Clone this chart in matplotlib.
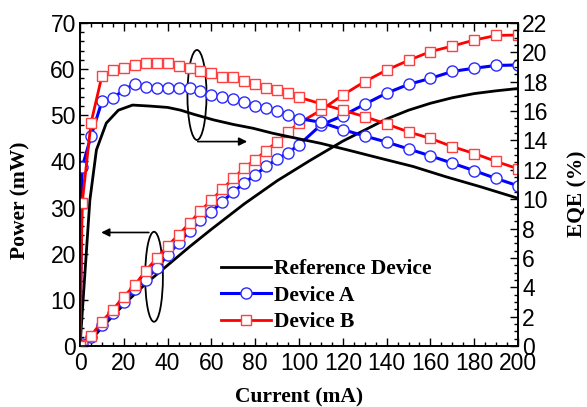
import numpy as np
import matplotlib
matplotlib.use("Agg")
import matplotlib.pyplot as plt
from matplotlib.patches import Ellipse
from matplotlib.ticker import MultipleLocator

# current (mA) for the marker series
cur = [0, 1, 5, 10, 15, 20, 25, 30, 35, 40, 45, 50, 55, 60, 65, 70, 75, 80, 85, 90, 95, 100,
       110, 120, 130, 140, 150, 160, 170, 180, 190, 200]

# output power (mW)
pow_b = [0, 0.3, 2.2, 5.3, 7.9, 10.7, 13.2, 16.3, 19.0, 21.7, 24.1, 26.6, 29.3, 31.6, 34.0, 36.3,
         38.6, 40.4, 42.3, 44.3, 46.4, 48.3, 51.1, 54.4, 57.3, 59.8, 61.9, 63.8, 65.0, 66.3, 67.3, 67.4]
pow_a = [0, 0.5, 2.0, 4.5, 7.1, 9.6, 12.3, 14.4, 16.8, 19.7, 22.3, 24.9, 27.2, 29.1, 31.3, 33.4,
         35.3, 37.1, 38.9, 40.5, 41.9, 43.6, 47.9, 49.9, 52.4, 54.8, 56.7, 58.0, 59.5, 60.2, 60.8, 60.9]

# EQE (%)
eqe_b = [0, 9.74, 15.18, 18.39, 18.79, 18.92, 19.11, 19.30, 19.27, 19.30, 19.08, 18.92, 18.76,
         18.61, 18.35, 18.29, 18.07, 17.82, 17.60, 17.44, 17.22, 16.94, 16.50, 16.06, 15.62,
         15.12, 14.58, 14.14, 13.58, 13.11, 12.57, 12.07]
eqe_a = [0, 12.19, 14.27, 16.66, 16.88, 17.44, 17.85, 17.63, 17.57, 17.60, 17.57, 17.57, 17.35,
         17.10, 16.94, 16.81, 16.63, 16.34, 16.19, 16.00, 15.75, 15.49, 15.24, 14.74, 14.30,
         13.89, 13.42, 12.95, 12.45, 11.94, 11.41, 10.91]

# reference device (plain lines)
ref_pow_x = [0, 5, 10, 20, 30, 40, 50, 60, 75, 90, 105, 120, 140, 150, 160, 170, 180, 190, 200]
ref_pow = [0, 1.3, 4.0, 9.0, 13.5, 17.5, 21.5, 25.3, 30.8, 35.8, 40.2, 44.4, 49.2, 51.1, 52.6,
           53.8, 54.7, 55.3, 55.8]
ref_eqe_x = [0, 4.5, 7.5, 12, 17.5, 24, 32, 40, 46, 52, 61, 70, 79, 88, 100, 110, 122, 137,
             152, 167, 183, 200]
ref_eqe = [0, 9.93, 13.36, 15.18, 16.06, 16.41, 16.34, 16.25, 16.06, 15.78, 15.40, 15.09, 14.83,
           14.49, 14.11, 13.80, 13.36, 12.79, 12.23, 11.53, 10.84, 10.06]

sans = ["Liberation Sans", "DejaVu Sans"]
serif = ["Liberation Serif", "DejaVu Serif"]
fs = 15.5
tfs = 16.5

fig = plt.figure(figsize=(5.87, 4.07), dpi=100)
ax = fig.add_axes([0.1363, 0.1499, 0.7462, 0.7936])
ax2 = ax.twinx()

red_kw = dict(color="red", lw=2.0, marker="s", ms=7.5, mfc="white", mec="#ff4040", mew=1.0)
blue_kw = dict(color="blue", lw=2.2, marker="o", ms=8, mfc="white", mec="#2a2aff", mew=1.0)

ax.plot(ref_pow_x, ref_pow, color="black", lw=2.0)
ax.plot(cur, pow_a, **blue_kw)
ax.plot(cur, pow_b, **red_kw)

h0, = ax2.plot(ref_eqe_x, ref_eqe, color="black", lw=2.0)
h1, = ax2.plot(cur, eqe_a, **blue_kw)
h2, = ax2.plot(cur, eqe_b, **red_kw)

ax.set_xlim(0, 200)
ax.set_ylim(0, 70)
ax2.set_ylim(0, 22)

ax.xaxis.set_major_locator(MultipleLocator(20))
ax.xaxis.set_minor_locator(MultipleLocator(5))
ax.yaxis.set_major_locator(MultipleLocator(10))
ax.yaxis.set_minor_locator(MultipleLocator(2))
ax2.yaxis.set_major_locator(MultipleLocator(2))
ax2.yaxis.set_minor_locator(MultipleLocator(0.5))

ax.tick_params(which="both", direction="in", top=True, right=False, width=1)
ax.tick_params(which="major", length=6)
ax.tick_params(which="minor", length=3)
ax2.tick_params(which="both", direction="in", width=1)
ax2.tick_params(which="major", length=6)
ax2.tick_params(which="minor", length=3)

for a in (ax, ax2):
    for lab in a.get_xticklabels() + a.get_yticklabels():
        lab.set_fontfamily(sans)
        lab.set_fontsize(tfs)
    for sp in a.spines.values():
        sp.set_linewidth(1.2)
ax.tick_params(axis="y", pad=3)
ax.tick_params(axis="x", pad=4)
ax2.tick_params(axis="y", pad=3)

ax.set_xlabel("Current (mA)", family=serif, fontweight="bold", fontsize=fs)
ax.set_ylabel("Power (mW)", family=serif, fontweight="bold", fontsize=fs)
ax2.set_ylabel("EQE (%)", family=serif, fontweight="bold", fontsize=fs)
ax.xaxis.set_label_coords(0.5, -0.127)
ax.yaxis.set_label_coords(-0.112, 0.45)
ax2.yaxis.set_label_coords(1.112, 0.47)

# ellipses with arrows pointing to the matching axis
ax.add_patch(Ellipse((53.4, 54.4), 8.7, 19.5, fill=False, ec="black", lw=1.3))
ax.annotate("", xy=(77.6, 44.3), xytext=(52.5, 44.3),
            arrowprops=dict(arrowstyle="-|>", color="black", lw=1.2, mutation_scale=12))
ax.add_patch(Ellipse((33.8, 15.0), 8.1, 19.5, fill=False, ec="black", lw=1.3))
ax.annotate("", xy=(8.4, 24.6), xytext=(32.7, 24.6),
            arrowprops=dict(arrowstyle="-|>", color="black", lw=1.2, mutation_scale=12))

ax2.legend([h0, h1, h2], ["Reference Device", "Device A", "Device B"],
           loc="center left", bbox_to_anchor=(0.322, 0.156), frameon=False,
           prop=dict(family=serif, weight="bold", size=fs),
           handlelength=2.3, handletextpad=0.15, labelspacing=0.3,
           borderpad=0, borderaxespad=0)

fig.savefig("out.png", dpi=100)
